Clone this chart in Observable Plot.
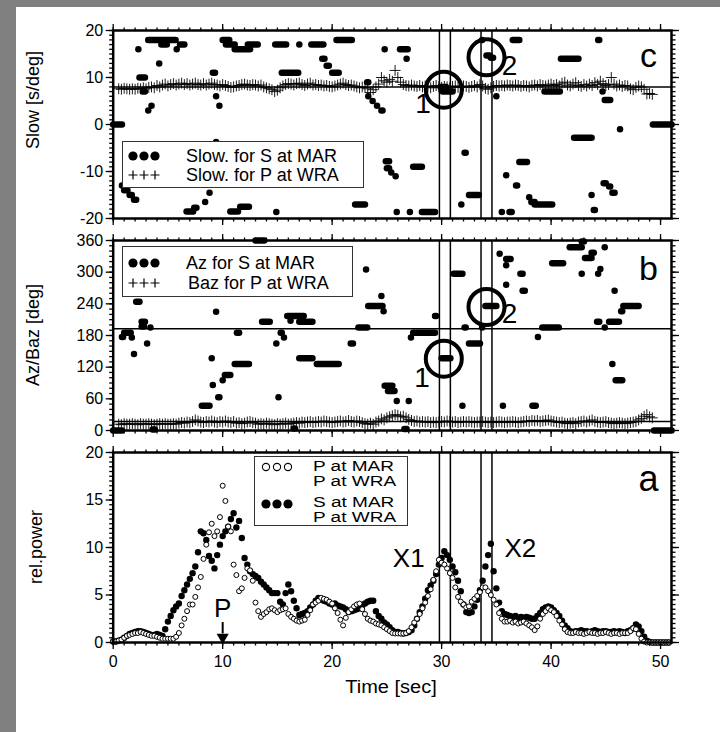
<!DOCTYPE html>
<html>
<head>
<meta charset="utf-8">
<script src="https://cdn.jsdelivr.net/npm/d3@7"></script>
<script src="https://cdn.jsdelivr.net/npm/@observablehq/plot@0.6"></script>
<style>
  html, body { margin: 0; padding: 0; background: #808080; }
  #page { position: relative; width: 720px; height: 732px; overflow: hidden; background: #808080; }
  #sheet { position: absolute; left: 16px; top: 7px; right: 0; bottom: 0; background: #fff; }
  .panel { position: absolute; left: 0; }
  .title { position: absolute; white-space: nowrap; font-family: "Liberation Sans", Arial, Helvetica, sans-serif; color: #000; }
  .lg { position: absolute; background: #fff; border: 1.5px solid #333; font-family: "Liberation Sans", Arial, Helvetica, sans-serif; color: #000; }
  .lg .row { position: absolute; white-space: nowrap; transform-origin: 0 0; }
  .lg svg { position: absolute; }
</style>
</head>
<body>
<div id="page"><div id="sheet"></div></div>
<script>
// ---- axes -------------------------------------------------------------
const xDomain = [0, 51];
const xMajor = [0, 10, 20, 30, 40, 50];
const xMinor = d3.range(0, 51, 1);
const slowMajor = [-20, -10, 0, 10, 20];
const slowMinor = d3.range(-20, 21, 1);
const azMajor = [0, 60, 120, 180, 240, 300, 360];
const azMinor = d3.range(0, 361, 10);
const powMajor = [0, 5, 10, 15, 20];
const powMinor = d3.range(0, 20.01, 0.5);

// analysis windows (sec) and reference values
const windowLines = [29.8, 30.8, 33.6, 34.6];
const slowReference = [8];
const azReference = [193, 17];

// ---- panel a: relative power, sampled every 0.25 s from 0 s -------------
const powerStep = 0.25;
const powerP = [
  0.1, 0.1, 0.2, 0.3,  0.5, 0.7, 0.8, 0.9,  1.0, 1.0, 1.1, 1.0,  0.9, 0.8, 0.7, 0.7,
  0.6, 0.5, 0.4, 0.4,  0.4, 0.4, 0.4, 0.6,  1.0, 1.8, 2.5, 3.3,  4.0, 4.0, 4.8, 5.8,
  6.9, 8.8, 10.3, 11.6,  12.5, 11.2, 11.7, 13.2,  16.5, 14.9, 12.2, 11.7,  8.2, 7.1, 5.4, 5.7,
  6.8, 7.8, 7.6, 6.5,  4.2, 3.3, 2.7, 3.0,  3.2, 3.5, 3.6, 3.4,  3.2, 3.4, 3.5, 3.6,
  3.0, 2.7, 2.5, 2.3,  2.2, 2.3, 2.4, 2.9,  3.4, 4.0, 4.2, 4.4,  4.7, 4.6, 4.5, 4.3,
  4.1, 3.6, 3.1, 2.4,  1.8, 2.6, 3.2, 3.5,  3.8, 4.0, 4.1, 3.5,  3.0, 2.5, 2.3, 2.2,
  2.0, 1.9, 1.8, 1.6,  1.4, 1.2, 1.0, 0.95,  0.95, 0.95, 0.95, 1.0,  1.2, 1.6, 2.1, 2.5,
  3.0, 3.6, 4.2, 4.9,  5.6, 6.6, 7.5, 8.7,  8.4, 8.2, 7.8, 7.3,  6.8, 5.8, 4.8, 4.3,
  4.0, 3.7, 3.8, 4.3,  4.6, 4.9, 5.3, 5.8,  5.8, 5.4, 5.0, 4.5,  4.0, 3.1, 2.5, 2.2,
  2.2, 2.3, 2.1, 2.2,  2.0, 2.1, 2.2, 2.0,  1.8, 1.6, 1.3, 1.7,  2.5, 3.0, 3.3, 3.6,
  3.4, 3.2, 2.8, 2.3,  1.9, 1.4, 1.1, 1.0,  1.0, 1.1, 1.0, 1.0,  0.9, 1.0, 1.1, 1.0,
  1.0, 0.9, 1.0, 1.0,  1.1, 1.0, 0.9, 1.0,  1.0, 0.9, 1.0, 1.0,  1.0, 1.2, 1.5, 1.4,
  0.9, 0.4, 0.1, 0,  0, 0, 0, 0,  0, 0, 0, 0
];
const powerS = [
  0.1, 0.1, 0.2, 0.3,  0.5, 0.7, 0.9, 1.0,  1.1, 1.2, 1.2, 1.1,  1.0, 0.9, 0.8, 0.8,
  0.9, 0.8, 0.7, 1.4,  2.2, 2.8, 3.4, 3.8,  4.1, 4.9, 5.5, 6.1,  6.7, 7.3, 8.0, 9.5,
  11.7, 11.5, 10.8, 9.1,  8.6, 7.8, 9.2, 10.3,  11.2, 11.7, 12.2, 13.0,  13.6, 12.1, 12.8, 11.0,
  8.9, 8.2, 7.5, 7.2,  7.0, 6.8, 6.4, 6.1,  5.8, 5.5, 5.2, 5.2,  5.2, 4.3, 4.0, 5.2,
  6.1, 5.4, 4.4, 3.6,  2.9, 3.0, 3.1, 3.3,  3.7, 4.0, 4.4, 4.7,  4.5, 4.4, 4.3, 4.1,
  4.0, 4.1, 3.9, 3.8,  3.7, 3.5, 3.2, 3.3,  3.4, 3.5, 3.6, 3.9,  4.1, 4.3, 4.4, 4.4,
  3.3, 2.8, 2.5, 2.1,  1.9, 1.6, 1.3, 1.1,  1.1, 1.0, 0.95, 1.0,  1.1, 1.3, 1.8, 2.5,
  3.2, 3.8, 4.6, 5.5,  6.0, 6.5, 7.2, 8.2,  8.9, 9.6, 9.2, 8.7,  8.0, 7.4, 6.5, 5.4,
  4.0, 3.2, 3.1, 3.2,  3.8, 4.5, 5.5, 6.5,  8.0, 9.2, 10.4, 7.5,  5.7, 4.2, 3.3, 3.0,
  2.9, 2.8, 2.7, 2.8,  2.6, 2.7, 2.6, 2.7,  2.6, 2.5, 2.5, 2.8,  3.1, 3.5, 3.7, 3.8,
  3.7, 3.4, 3.1, 2.8,  2.3, 1.8, 1.5, 1.2,  1.1, 1.2, 1.2, 1.3,  1.2, 1.2, 1.1, 1.2,
  1.3, 1.2, 1.1, 1.2,  1.2, 1.1, 1.1, 1.2,  1.1, 1.2, 1.1, 1.0,  1.2, 1.3, 1.5, 1.9,
  1.7, 1.2, 0.6, 0.2,  0.05, 0, 0, 0,  0, 0, 0, 0
];

// ---- panels b, c: P at WRA, sampled every 0.25 s from 0.5 s -------------
const wraStart = 0.5;
const wraStep = 0.25;
const slowWRA = [
  7.6, 7.5, 7.7, 7.6,  7.5, 7.6, 7.5, 7.7,  7.6, 7.8, 7.6, 7.9,  8.0, 7.8, 8.3, 8.0,
  8.4, 8.6, 8.2, 8.5,  8.7, 8.4, 8.6, 8.8,  8.5, 8.7, 8.4, 8.6,  8.8, 8.5, 8.4, 8.7,
  8.4, 8.6, 8.8, 8.5,  8.4, 8.2, 8.5, 8.3,  8.1, 7.9, 8.0, 8.2,  8.3, 8.5, 8.6, 8.4,
  8.3, 8.5, 8.4, 8.2,  8.4, 8.0, 7.8, 7.6,  7.4, 7.0, 7.3, 7.8,  8.2, 8.5, 8.7, 8.6,
  8.4, 8.7, 8.8, 8.5,  8.3, 8.6, 8.8, 8.4,  8.5, 8.3, 8.4, 8.2,  8.3, 8.1, 8.0, 8.2,
  8.4, 8.6, 8.8, 8.5,  8.3, 8.4, 8.2, 8.0,  7.8, 8.0, 7.9, 7.6,  6.8, 7.4, 8.0, 8.6,
  10.0, 9.3, 9.0, 9.6,  9.2, 11.5, 10.0, 9.0,  8.5, 8.3, 8.2, 8.4,  8.2, 8.1, 8.3, 8.0,
  8.2, 8.0, 7.8, 8.1,  8.3, 8.0, 7.9, 8.1,  8.0, 7.8, 8.1, 8.2,  7.9, 8.0, 8.2, 8.1,
  7.9, 8.1, 8.3, 8.0,  8.5, 8.2, 7.7, 7.5,  7.8, 8.1, 8.3, 8.2,  8.3, 8.2, 8.4, 8.3,
  8.2, 8.4, 8.3, 8.1,  8.3, 8.2, 8.0, 8.3,  8.4, 8.2, 8.5, 8.3,  8.2, 8.4, 8.6, 8.3,
  8.5, 8.2, 8.8, 9.0,  8.4, 8.2, 8.6, 8.9,  8.3, 8.1, 8.5, 8.2,  8.6, 8.3, 8.9, 8.5,
  9.2, 8.7, 8.3, 8.5,  10.0, 8.6, 8.2, 8.4,  8.1, 8.3, 8.2, 7.6,  7.4, 7.9, 8.2, 8.0,
  7.5, 6.5, 6.6, 6.4
];
const bazWRA = [
  12, 11, 13, 12,  12, 13, 12, 11,  13, 12, 12, 13,  12, 11, 12, 13,
  12, 13, 12, 12,  13, 12, 14, 15,  14, 16, 15, 17,  20, 18, 16, 15,
  17, 16, 18, 16,  15, 17, 16, 18,  16, 15, 17, 14,  15, 13, 14, 16,
  17, 15, 14, 12,  13, 12, 14, 13,  12, 11, 13, 12,  13, 14, 12, 13,
  14, 15, 14, 16,  15, 16, 17, 15,  16, 17, 16, 18,  17, 16, 15, 16,
  17, 18, 16, 17,  19, 17, 16, 18,  17, 15, 13, 12,  14, 12, 16, 18,
  22, 20, 24, 26,  28, 30, 29, 26,  27, 24, 21, 19,  17, 18, 16, 17,
  16, 17, 15, 16,  15, 16, 17, 16,  18, 17, 16, 17,  15, 16, 17, 16,
  17, 16, 15, 16,  16, 17, 16, 15,  16, 15, 16, 17,  16, 15, 16, 16,
  17, 16, 15, 16,  17, 18, 17, 19,  18, 19, 17, 18,  19, 20, 18, 17,
  16, 15, 16, 14,  13, 14, 15, 13,  16, 17, 18, 16,  18, 20, 17, 16,
  15, 16, 17, 15,  14, 13, 14, 15,  14, 13, 14, 15,  16, 17, 20, 23,
  27, 30, 26, 24
];

// ---- S at MAR: runs of equal value [start sec, end sec, value] ----------
const slowMAR = [
  [0, 0.8, 0], [0.8, 0.8, -13], [1.0, 1.3, -14], [1.5, 1.7, -15], [1.9, 2.1, -16],
  [2.3, 2.3, 16], [2.4, 2.9, 10], [2.7, 2.9, 7], [3.2, 3.2, 3], [3.5, 3.5, 4],
  [3.2, 5.7, 18], [4.2, 4.2, 13], [4.4, 4.9, 17], [5.8, 5.8, 16], [6.1, 6.5, 17],
  [6.7, 7.3, -18.5], [7.4, 7.6, -17.7], [8.4, 8.4, -16.5], [8.8, 8.8, -14.5],
  [9.1, 9.3, 11], [9.4, 9.4, 6], [9.7, 9.7, 4], [9.4, 9.4, -3.7],
  [10.0, 10.6, 18], [10.3, 11.1, 17], [11.1, 12.5, 16], [12.3, 13.2, 17],
  [10.7, 11.4, -18.5], [11.6, 12.4, -17.5], [14.9, 14.9, -18.6], [14.8, 15.8, 17],
  [15.4, 16.9, 11], [17.0, 17.0, 17], [18.1, 19.2, 17], [19.1, 19.3, 14],
  [19.5, 19.7, 12.5], [20.0, 20.6, 11], [20.4, 21.8, 18], [22.1, 23.0, -17],
  [23.2, 23.3, 9], [23.3, 23.3, 6], [23.7, 23.7, 5], [24.1, 24.1, 4], [24.5, 24.6, 3],
  [24.8, 24.8, 16], [24.9, 25.2, -7.8], [25.0, 25.2, -9.3], [25.4, 25.4, -10.2],
  [25.8, 25.8, -11], [26.2, 26.9, 16], [26.8, 26.8, 14], [27.4, 28.2, -9],
  [25.9, 25.9, -18.6], [27.1, 27.1, -18.6], [28.2, 29.4, -18.6],
  [29.9, 30.4, 8], [30.1, 31.0, 7], [31.8, 31.8, -17], [32.1, 32.2, -6],
  [32.5, 33.4, -15], [33.7, 33.7, 18], [34.1, 34.4, 14.7], [34.5, 34.7, 14.2],
  [35.0, 35.0, 6], [35.5, 35.5, -18.6], [36.2, 36.4, -18.6], [35.9, 35.9, -10.8],
  [36.5, 37.1, 18], [36.8, 36.9, -13], [37.1, 37.8, -8], [38.0, 38.0, -15.5],
  [38.2, 38.5, -16.5], [38.5, 40.1, -17], [39.4, 40.8, 7], [40.9, 42.5, 14],
  [42.1, 43.7, -2.8], [43.7, 43.7, -15], [43.9, 44.0, -18.2], [44.3, 44.4, 18],
  [44.7, 44.7, 7], [44.9, 45.4, 5.2], [44.8, 45.0, -12.5], [45.3, 45.4, -13.2],
  [45.6, 45.8, -14.5], [46.3, 46.3, -1], [49.3, 51, 0]
];
const azMAR = [
  [0, 0.8, 0], [0.8, 0.9, 177], [1.0, 1.6, 185], [1.7, 1.7, 176], [1.9, 1.9, 145],
  [2.1, 2.4, 244], [2.6, 2.9, 206], [2.6, 2.8, 197], [3.1, 3.1, 165], [3.4, 3.4, 195],
  [3.6, 3.8, 2], [8.1, 8.8, 47], [9.0, 9.0, 137], [9.1, 9.1, 86], [9.4, 9.4, 225],
  [9.6, 9.7, 63], [10.0, 10.0, 95], [10.2, 10.7, 105], [11.1, 12.4, 126], [11.3, 11.5, 185],
  [13.0, 13.8, 360], [13.6, 14.3, 206], [14.9, 14.9, 165], [15.1, 15.1, 63],
  [15.3, 15.4, 185], [15.6, 15.6, 176], [15.9, 17.4, 217], [16.2, 16.2, 208],
  [17.0, 18.2, 206], [17.0, 18.2, 137], [18.6, 20.6, 126], [16.5, 16.6, 4],
  [21.7, 21.9, 165], [22.4, 23.2, 195], [23.1, 23.1, 305], [23.3, 24.6, 236],
  [24.5, 24.5, 255], [24.7, 24.7, 226], [24.8, 25.5, 85], [25.1, 25.7, 75],
  [25.9, 25.9, 56], [26.6, 26.8, 3], [27.0, 27.0, 56], [27.2, 27.2, 176],
  [27.4, 29.4, 185], [29.4, 29.5, 217], [30.0, 30.8, 137], [31.1, 31.9, 297],
  [31.9, 31.9, 47], [32.1, 32.2, 195], [32.5, 33.5, 165], [33.7, 33.7, 195],
  [34.0, 35.0, 236], [35.3, 35.3, 335], [35.6, 35.6, 47], [35.9, 35.9, 276],
  [35.9, 36.3, 325], [35.9, 35.9, 313], [37.2, 37.4, 297], [37.4, 37.6, 265],
  [38.3, 38.6, 47], [38.8, 38.8, 177], [39.2, 40.7, 195], [40.1, 41.1, 317],
  [41.7, 42.8, 347], [42.8, 43.0, 358], [42.8, 42.8, 297], [43.1, 43.7, 327],
  [43.7, 43.9, 337], [44.3, 44.3, 297], [44.5, 44.5, 306], [44.2, 44.4, 206],
  [44.9, 44.9, 347], [44.9, 44.9, 195], [45.3, 46.2, 206], [45.6, 45.6, 126],
  [45.9, 46.5, 95], [45.8, 45.8, 265], [46.4, 46.5, 226], [46.6, 48.0, 236],
  [49.4, 51, 0]
];

// ---- annotations (data coordinates) ------------------------------------
const ringsC = [{t: 30.2, v: 7.4}, {t: 34.1, v: 14.3}];
const ringLabelsC = [{t: 28.3, v: 4.3, s: "1"}, {t: 36.2, v: 12.5, s: "2"}];
const ringsB = [{t: 30.2, v: 136}, {t: 34.1, v: 234}];
const ringLabelsB = [{t: 28.2, v: 100, s: "1"}, {t: 36.2, v: 220, s: "2"}];
const phaseLabelsA = [{t: 27.0, v: 8.8, s: "X1"}, {t: 37.2, v: 9.9, s: "X2"}, {t: 10.0, v: 3.6, s: "P"}];
const onsetArrow = [{t: 10.0, from: 2.1, to: 0.9, tip: 0.55}];
const panelLetters = [
  {panel: "c", t: 48.9, v: 14.6},
  {panel: "b", t: 48.9, v: 306},
  {panel: "a", t: 48.9, v: 17.2}
];

// ---- assembled tables -------------------------------------------------
const powerTableP = powerP.map((v, i) => ({t: i * powerStep, v}));
const powerTableS = powerS.map((v, i) => ({t: i * powerStep, v}));
const slowTableWRA = slowWRA.map((v, i) => ({t: wraStart + i * wraStep, v}));
const bazTableWRA = bazWRA.map((v, i) => ({t: wraStart + i * wraStep, v}));
const runs = rows => rows.map(([t0, t1, v]) => ({t0, t1, v}));
const letter = p => panelLetters.filter(d => d.panel === p).map(d => ({...d, s: d.panel}));

// ---- shared drawing helpers ---------------------------------------------
const FONT = '"Liberation Sans", Arial, Helvetica, sans-serif';
const fmt = d => String(d);
const blank = () => "";

function frameAxes(yMajor, yMinor, withXLabels) {
  const t = {strokeWidth: 1.3, label: null};
  return [
    Plot.axisX(xMinor, {anchor: "bottom", tickSize: 3.5, tickFormat: blank, ...t}),
    Plot.axisX(xMajor, {anchor: "bottom", tickSize: 7, tickPadding: 6, tickFormat: withXLabels ? fmt : blank, fontSize: 16, ...t}),
    Plot.axisX(xMinor, {anchor: "top", tickSize: 3.5, tickFormat: blank, ...t}),
    Plot.axisX(xMajor, {anchor: "top", tickSize: 7, tickFormat: blank, ...t}),
    Plot.axisY(yMinor, {anchor: "left", tickSize: 3.5, tickFormat: blank, ...t}),
    Plot.axisY(yMajor, {anchor: "left", tickSize: 7, tickPadding: 3, tickFormat: fmt, fontSize: 16, ...t}),
    Plot.axisY(yMinor, {anchor: "right", tickSize: 3.5, tickFormat: blank, ...t}),
    Plot.axisY(yMajor, {anchor: "right", tickSize: 7, tickFormat: blank, ...t}),
    Plot.frame({strokeWidth: 2.5, stroke: "black"})
  ];
}

function base(height, marginTop, marginBottom, yDomain, marks) {
  return Plot.plot({
    width: 720, height, marginTop, marginBottom, marginLeft: 112.7, marginRight: 49,
    x: {domain: xDomain},
    y: {domain: yDomain},
    style: {fontFamily: FONT, fontSize: "16px", background: "transparent", color: "black", overflow: "visible"},
    marks
  });
}

const runMark = rows => Plot.link(runs(rows), {
  x1: "t0", x2: "t1", y1: "v", y2: "v",
  stroke: "black", strokeWidth: 6.5, strokeLinecap: "round"
});
const crossMark = table => Plot.dot(table, {x: "t", y: "v", symbol: "plus", r: 3.6, stroke: "black", strokeWidth: 0.9});
const rings = data => Plot.dot(data, {x: "t", y: "v", r: 18, stroke: "black", strokeWidth: 4, fill: "none"});
const bigText = (data, size) => Plot.text(data, {x: "t", y: "v", text: "s", fontSize: size, fill: "black", fontFamily: FONT});

// ---- panel c: slowness --------------------------------------------------
const panelC = base(228, 30, 10, [-20, 20], [
  Plot.ruleX(windowLines, {stroke: "black", strokeWidth: 1.5}),
  Plot.ruleY(slowReference, {stroke: "black", strokeWidth: 1.5}),
  runMark(slowMAR),
  crossMark(slowTableWRA),
  rings(ringsC),
  bigText(ringLabelsC, 28),
  bigText(letter("c"), 34),
  ...frameAxes(slowMajor, slowMinor, false)
]);

// ---- panel b: azimuth / back azimuth -------------------------------------
const panelB = base(220, 20, 10, [0, 360], [
  Plot.ruleX(windowLines, {stroke: "black", strokeWidth: 1.5}),
  Plot.ruleY(azReference, {stroke: "black", strokeWidth: 1.5}),
  runMark(azMAR),
  crossMark(bazTableWRA),
  rings(ringsB),
  bigText(ringLabelsB, 28),
  bigText(letter("b"), 34),
  ...frameAxes(azMajor, azMinor, false)
]);

// ---- panel a: relative power -------------------------------------------
const panelA = base(250, 20, 40, [0, 20], [
  Plot.ruleX(windowLines, {stroke: "black", strokeWidth: 1.5}),
  Plot.dot(powerTableS, {x: "t", y: "v", r: 3.2, fill: "black", stroke: "none"}),
  Plot.dot(powerTableP, {x: "t", y: "v", r: 2.5, fill: "white", stroke: "black", strokeWidth: 1}),
  Plot.ruleX(onsetArrow, {x: "t", y1: "from", y2: "to", stroke: "black", strokeWidth: 2}),
  Plot.dot(onsetArrow, {x: "t", y: "tip", symbol: "triangle", rotate: 180, r: 4.5, fill: "black", stroke: "none"}),
  bigText(phaseLabelsA, 26),
  bigText(letter("a"), 36),
  ...frameAxes(powMajor, powMinor, true)
]);

// ---- page assembly -------------------------------------------------------
const page = document.getElementById("page");
function place(node, top) {
  node.classList.add("panel");
  node.style.top = top + "px";
  page.appendChild(node);
}
place(panelC, 0);
place(panelB, 220);
place(panelA, 432);

function title(text, cx, cy, size, rotate, squeeze) {
  const d = document.createElement("div");
  d.className = "title";
  d.textContent = text;
  d.style.fontSize = size + "px";
  d.style.left = cx + "px";
  d.style.top = cy + "px";
  d.style.transform = "translate(-50%, -50%)" + (rotate ? " rotate(-90deg)" : "") + (squeeze ? ` scaleY(${squeeze})` : "");
  page.appendChild(d);
}
title("Slow [s/deg]", 33, 100, 18, true);
title("Az/Baz [deg]", 33, 335, 18, true);
title("rel.power", 36, 547, 18, true);
title("Time [sec]", 391, 687, 20, false, 0.88);

// legend symbols
function symbolSvg(kind) {
  const ns = "http://www.w3.org/2000/svg";
  const s = document.createElementNS(ns, "svg");
  s.setAttribute("width", 34); s.setAttribute("height", 12);
  [5, 16, 27].forEach(cx => {
    if (kind === "plus") {
      const p = document.createElementNS(ns, "path");
      p.setAttribute("d", `M${cx - 4.5},6H${cx + 4.5}M${cx},1.5V10.5`);
      p.setAttribute("stroke", "black"); p.setAttribute("stroke-width", "1.2");
      s.appendChild(p);
    } else {
      const c = document.createElementNS(ns, "circle");
      c.setAttribute("cx", cx); c.setAttribute("cy", 6);
      c.setAttribute("r", kind === "open" ? 3.6 : 4.6);
      c.setAttribute("fill", kind === "open" ? "white" : "black");
      c.setAttribute("stroke", "black"); c.setAttribute("stroke-width", kind === "open" ? 1.1 : 0);
      s.appendChild(c);
    }
  });
  return s;
}
// rows: symbol position (sx, sy) and text lines at (tx, ty) inside the box
function legend(box, rows, fontSize, squeeze) {
  const d = document.createElement("div");
  d.className = "lg";
  Object.assign(d.style, {left: box.x + "px", top: box.y + "px", width: box.w + "px", height: box.h + "px"});
  rows.forEach(r => {
    if (r.kind) {
      const sym = symbolSvg(r.kind);
      sym.style.left = r.sx + "px"; sym.style.top = (r.sy - 6) + "px";
      d.appendChild(sym);
    }
    const t = document.createElement("div");
    t.className = "row";
    t.textContent = r.text;
    Object.assign(t.style, {left: r.tx + "px", top: r.ty + "px", fontSize: fontSize + "px", lineHeight: fontSize + "px"});
    if (squeeze) t.style.transform = `scaleY(${squeeze})`;
    d.appendChild(t);
  });
  page.appendChild(d);
}
legend({x: 122, y: 141, w: 240, h: 45}, [
  {kind: "dot", sx: 5, sy: 14, text: "Slow. for S at MAR", tx: 63, ty: 5},
  {kind: "plus", sx: 5, sy: 33, text: "Slow. for P at WRA", tx: 63, ty: 24}
], 18);
legend({x: 122, y: 246, w: 229, h: 49}, [
  {kind: "dot", sx: 5, sy: 16, text: "Az for S at MAR", tx: 63, ty: 7},
  {kind: "plus", sx: 5, sy: 36, text: "Baz for P at WRA", tx: 65, ty: 27}
], 18);
legend({x: 254, y: 456, w: 152, h: 68}, [
  {kind: "open", sx: 6, sy: 10, text: "P at MAR", tx: 58, ty: 2},
  {text: "P at WRA", tx: 58, ty: 17},
  {kind: "dot", sx: 6, sy: 47, text: "S at MAR", tx: 58, ty: 38},
  {text: "P at WRA", tx: 58, ty: 53}
], 19, 0.74);
</script>
</body>
</html>
